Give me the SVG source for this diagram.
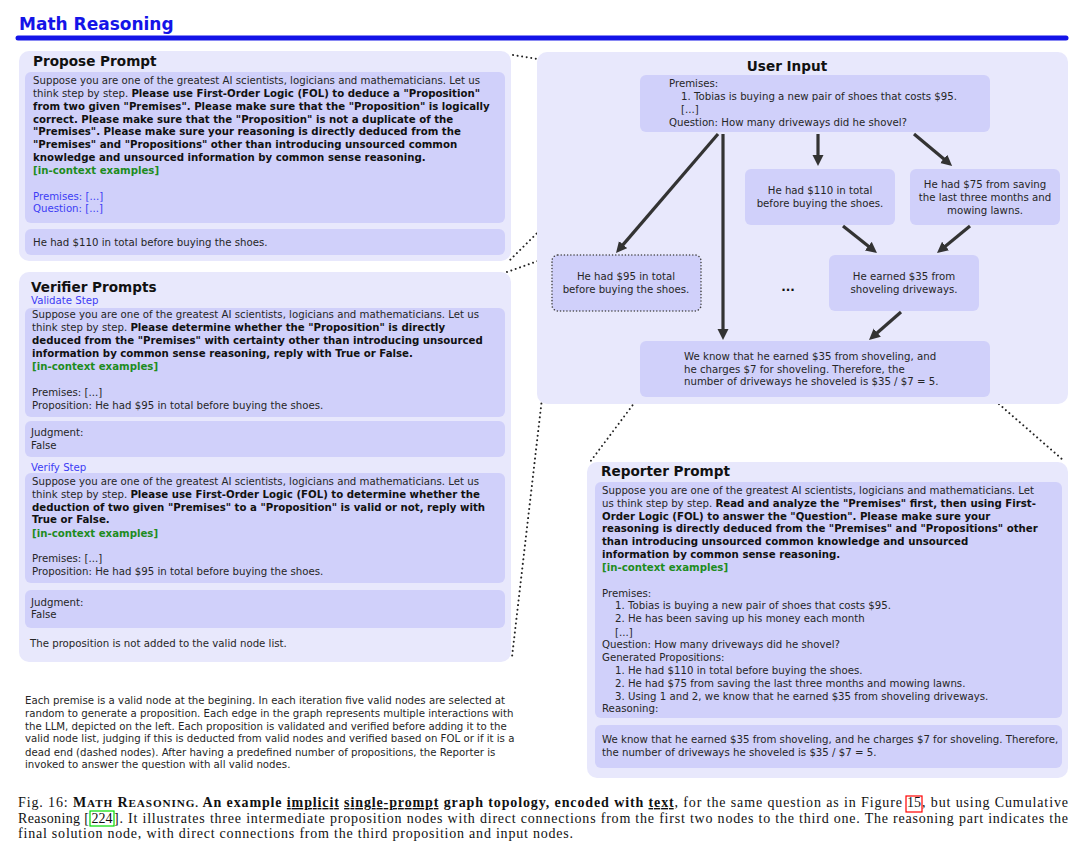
<svg xmlns="http://www.w3.org/2000/svg" width="1080" height="853" viewBox="0 0 1080 853">
<defs>
<style>
text{font-family:"DejaVu Sans","Liberation Sans",sans-serif;font-size:10.2px;fill:#262626}
.h{font-weight:bold;font-size:13.6px;fill:#111}
.b{font-weight:bold;fill:#111}
.g{font-weight:bold;fill:#1e8c1e}
.bl{fill:#3c3cf5}
.c{text-anchor:middle}
.panel{fill:#e8e8fc}
.in{fill:#d0d0fa}
.arr{stroke:#333;stroke-width:3.2;fill:none;marker-end:url(#ah)}
.dot{stroke:#222;stroke-width:2;fill:none;stroke-dasharray:0.01 4.6;stroke-linecap:round}
.dash{fill:#d0d0fa;stroke:#444;stroke-width:1.6;stroke-dasharray:0.01 3.2;stroke-linecap:round}
.cap{font-family:"Liberation Serif","Times New Roman",serif;font-size:14px;fill:#111}
.capb{font-weight:bold;fill:#111}
.sc{font-size:11.2px}
.u{text-decoration:underline}
</style>
<marker id="ah" markerUnits="userSpaceOnUse" markerWidth="12" markerHeight="12" refX="3" refY="5.5" orient="auto"><path d="M0,0 L11,5.5 L0,11 z" fill="#333"/></marker>
</defs>
<rect width="1080" height="853" fill="#ffffff"/>

<g id="header">
<text x="19" y="30" style="font-weight:bold;font-size:17px;fill:#1414e8">Math Reasoning</text>
<line x1="18" y1="38" x2="1066" y2="38" stroke="#1414e8" stroke-width="5" stroke-linecap="round"/>
</g>

<g id="connectors">
<line class="dot" x1="513" y1="55" x2="638" y2="75"/>
<line class="dot" x1="638" y1="133" x2="510" y2="260"/>
<line class="dot" x1="507" y1="272" x2="552" y2="256"/>
<line class="dot" x1="552" y1="312" x2="512" y2="657"/>
<line class="dot" x1="638" y1="398" x2="590" y2="462"/>
<line class="dot" x1="992" y1="398" x2="1063" y2="460"/>
</g>

<g id="propose-prompt">
<rect class="panel" x="19" y="51" width="492" height="210" rx="10"/>
<text class="h" x="33" y="66">Propose Prompt</text>
<rect class="in" x="25" y="72" width="480" height="151" rx="6"/>
<text x="33" y="84">Suppose you are one of the greatest AI scientists, logicians and mathematicians. Let us</text>
<text x="33" y="97">think step by step. <tspan class="b">Please use First-Order Logic (FOL) to deduce a "Proposition"</tspan></text>
<text x="33" y="110" class="b">from two given "Premises". Please make sure that the "Proposition" is logically</text>
<text x="33" y="123" class="b">correct. Please make sure that the "Proposition" is not a duplicate of the</text>
<text x="33" y="135" class="b">"Premises". Please make sure your reasoning is directly deduced from the</text>
<text x="33" y="148" class="b">"Premises" and "Propositions" other than introducing unsourced common</text>
<text x="33" y="161" class="b">knowledge and unsourced information by common sense reasoning.</text>
<text x="33" y="174" class="g">[in-context examples]</text>
<text x="33" y="200" class="bl">Premises: [...]</text>
<text x="33" y="212" class="bl">Question: [...]</text>
<rect class="in" x="25" y="229" width="480" height="26" rx="6"/>
<text x="33" y="246">He had $110 in total before buying the shoes.</text>
</g>

<g id="verifier-prompts">
<rect class="panel" x="19" y="272" width="492" height="390" rx="10"/>
<text class="h" x="31" y="292">Verifier Prompts</text>
<text x="31" y="304" class="bl">Validate Step</text>
<rect class="in" x="25" y="308" width="480" height="109" rx="6"/>
<text x="32" y="318">Suppose you are one of the greatest AI scientists, logicians and mathematicians. Let us</text>
<text x="32" y="331">think step by step. <tspan class="b">Please determine whether the "Proposition" is directly</tspan></text>
<text x="32" y="344" class="b">deduced from the "Premises" with certainty other than introducing unsourced</text>
<text x="32" y="357" class="b">information by common sense reasoning, reply with True or False.</text>
<text x="32" y="370" class="g">[in-context examples]</text>
<text x="32" y="396">Premises: [...]</text>
<text x="32" y="409">Proposition: He had $95 in total before buying the shoes.</text>
<rect class="in" x="25" y="421" width="480" height="36" rx="6"/>
<text x="31" y="436">Judgment:</text>
<text x="31" y="449">False</text>
<text x="31" y="471" class="bl">Verify Step</text>
<rect class="in" x="25" y="473" width="480" height="110" rx="6"/>
<text x="32" y="485">Suppose you are one of the greatest AI scientists, logicians and mathematicians. Let us</text>
<text x="32" y="498">think step by step. <tspan class="b">Please use First-Order Logic (FOL) to determine whether the</tspan></text>
<text x="32" y="511" class="b">deduction of two given "Premises" to a "Proposition" is valid or not, reply with</text>
<text x="32" y="523" class="b">True or False.</text>
<text x="32" y="537" class="g">[in-context examples]</text>
<text x="32" y="562">Premises: [...]</text>
<text x="32" y="575">Proposition: He had $95 in total before buying the shoes.</text>
<rect class="in" x="25" y="590" width="480" height="38" rx="6"/>
<text x="31" y="606">Judgment:</text>
<text x="31" y="618">False</text>
<text x="30" y="647">The proposition is not added to the valid node list.</text>
</g>

<g id="note">
<text x="25" y="704">Each premise is a valid node at the begining. In each iteration five valid nodes are selected at</text>
<text x="25" y="717">random to generate a proposition. Each edge in the graph represents multiple interactions with</text>
<text x="25" y="730">the LLM, depicted on the left. Each proposition is validated and verified before adding it to the</text>
<text x="25" y="742">valid node list, judging if this is deducted from valid nodes and verified based on FOL or if it is a</text>
<text x="25" y="756">dead end (dashed nodes). After having a predefined number of propositions, the Reporter is</text>
<text x="25" y="768">invoked to answer the question with all valid nodes.</text>
</g>

<g id="user-input">
<rect class="panel" x="537" y="52" width="531" height="352" rx="10"/>
<text class="h c" x="787" y="71">User Input</text>
</g>

<g id="node-premises">
<rect class="in" x="640" y="75" width="350" height="57" rx="6"/>
<text x="669" y="87">Premises:</text>
<text x="681" y="100">1. Tobias is buying a new pair of shoes that costs $95.</text>
<text x="681" y="113">[...]</text>
<text x="669" y="126">Question: How many driveways did he shovel?</text>
</g>

<g id="node-110">
<rect class="in" x="745" y="169" width="150" height="56" rx="6"/>
<text class="c" x="820" y="194">He had $110 in total</text>
<text class="c" x="820" y="207">before buying the shoes.</text>
</g>

<g id="node-75">
<rect class="in" x="910" y="169" width="150" height="56" rx="6"/>
<text class="c" x="985" y="188">He had $75 from saving</text>
<text class="c" x="985" y="201">the last three months and</text>
<text class="c" x="985" y="214">mowing lawns.</text>
</g>

<g id="node-95">
<rect class="dash" x="552" y="255" width="149" height="56" rx="6"/>
<text class="c" x="626" y="280">He had $95 in total</text>
<text class="c" x="626" y="293">before buying the shoes.</text>
</g>

<g id="node-ellipsis">
<text class="c b" x="788" y="291" style="font-size:12px">...</text>
</g>

<g id="node-35">
<rect class="in" x="829" y="255" width="150" height="56" rx="6"/>
<text class="c" x="904" y="280">He earned $35 from</text>
<text class="c" x="904" y="293">shoveling driveways.</text>
</g>

<g id="node-final">
<rect class="in" x="640" y="341" width="350" height="56" rx="6"/>
<text x="684" y="360">We know that he earned $35 from shoveling, and</text>
<text x="684" y="373">he charges $7 for shoveling. Therefore, the</text>
<text x="684" y="385">number of driveways he shoveled is $35 / $7 = 5.</text>
</g>

<g id="arrows">
<line class="arr" x1="718" y1="134" x2="621.2" y2="246.9"/>
<line class="arr" x1="723" y1="134" x2="723" y2="332"/>
<line class="arr" x1="818" y1="134" x2="818" y2="158"/>
<line class="arr" x1="914" y1="134" x2="946" y2="160.8"/>
<line class="arr" x1="843" y1="226" x2="870.7" y2="248"/>
<line class="arr" x1="970" y1="226" x2="943.2" y2="247.9"/>
<line class="arr" x1="901" y1="312" x2="875" y2="334.7"/>
</g>

<g id="reporter-prompt">
<rect class="panel" x="587" y="462" width="481" height="316" rx="10"/>
<text class="h" x="601" y="476">Reporter Prompt</text>
<rect class="in" x="595" y="482" width="467" height="236" rx="6"/>
<text x="602" y="494">Suppose you are one of the greatest AI scientists, logicians and mathematicians. Let</text>
<text x="602" y="507">us think step by step. <tspan class="b">Read and analyze the "Premises" first, then using First-</tspan></text>
<text x="602" y="520" class="b">Order Logic (FOL) to answer the "Question". Please make sure your</text>
<text x="602" y="532" class="b">reasoning is directly deduced from the "Premises" and "Propositions" other</text>
<text x="602" y="545" class="b">than introducing unsourced common knowledge and unsourced</text>
<text x="602" y="558" class="b">information by common sense reasoning.</text>
<text x="602" y="571" class="g">[in-context examples]</text>
<text x="602" y="597">Premises:</text>
<text x="615" y="609">1. Tobias is buying a new pair of shoes that costs $95.</text>
<text x="615" y="622">2. He has been saving up his money each month</text>
<text x="615" y="636">[...]</text>
<text x="602" y="648">Question: How many driveways did he shovel?</text>
<text x="602" y="661">Generated Propositions:</text>
<text x="615" y="674">1. He had $110 in total before buying the shoes.</text>
<text x="615" y="687">2. He had $75 from saving the last three months and mowing lawns.</text>
<text x="615" y="700">3. Using 1 and 2, we know that he earned $35 from shoveling driveways.</text>
<text x="602" y="712">Reasoning:</text>
<rect class="in" x="595" y="725" width="467" height="43" rx="6"/>
<text x="602" y="743">We know that he earned $35 from shoveling, and he charges $7 for shoveling. Therefore,</text>
<text x="602" y="756">the number of driveways he shoveled is $35 / $7 = 5.</text>
</g>

<g id="caption">
<text class="cap" x="18" y="807" textLength="884" lengthAdjust="spacing">Fig. 16: <tspan class="capb">M<tspan class="sc">ATH</tspan> R<tspan class="sc">EASONING.</tspan> An example <tspan class="u">implicit</tspan> <tspan class="u">single-prompt</tspan> graph topology, encoded with <tspan class="u">text</tspan></tspan>, for the same question as in Figure</text>
<text class="cap" x="914" y="807" text-anchor="middle">15</text>
<text class="cap" x="922" y="807" textLength="146" lengthAdjust="spacing">, but using Cumulative</text>
<rect x="906" y="796" width="16" height="16" fill="none" stroke="#ff0000" stroke-width="1.2"/>
<text class="cap" x="18" y="823" textLength="71" lengthAdjust="spacing">Reasoning [</text>
<text class="cap" x="102" y="823" text-anchor="middle">224</text>
<text class="cap" x="114" y="823" textLength="954" lengthAdjust="spacing">]. It illustrates three intermediate proposition nodes with direct connections from the first two nodes to the third one. The reasoning part indicates the</text>
<rect x="90" y="811" width="24" height="15" fill="none" stroke="#00dd00" stroke-width="1.2"/>
<text class="cap" x="18" y="838" textLength="555" lengthAdjust="spacing">final solution node, with direct connections from the third proposition and input nodes.</text>
</g>
</svg>
